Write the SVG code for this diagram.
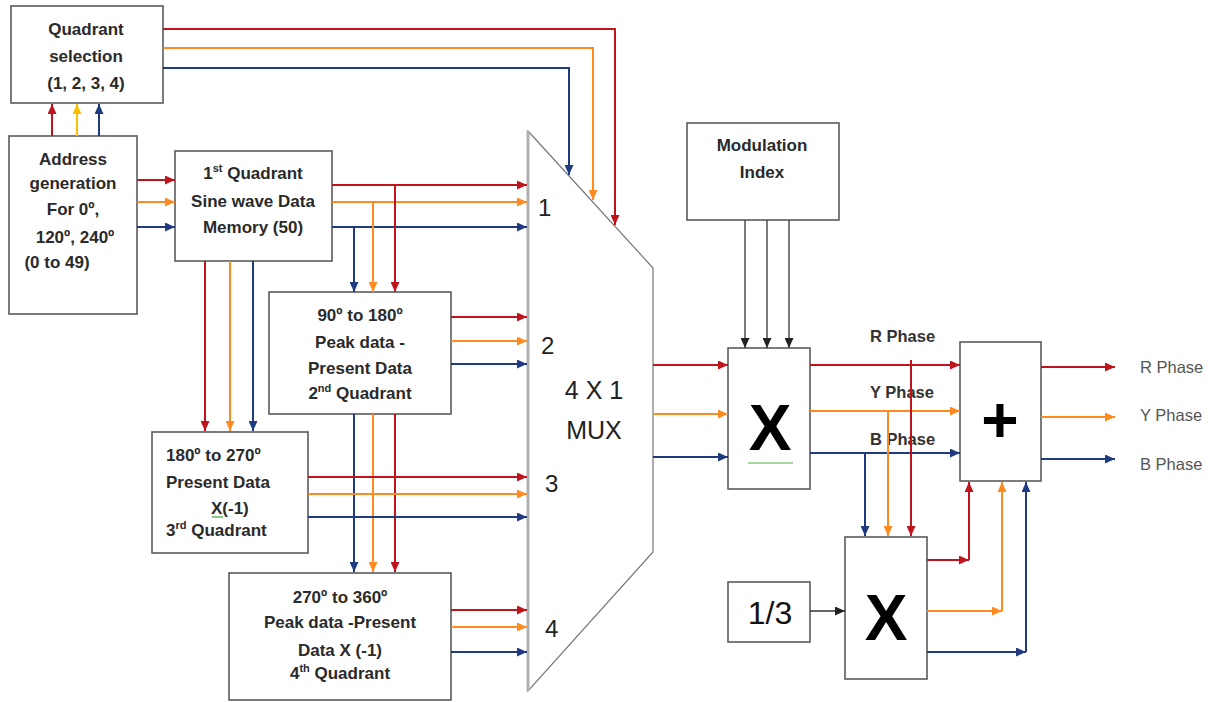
<svg xmlns="http://www.w3.org/2000/svg" width="1208" height="702" viewBox="0 0 1208 702">
<defs>
<style>
.box{fill:#fff;stroke:#5a5a5a;stroke-width:1.6}
.t{font-family:"Liberation Sans",Arial,sans-serif;font-size:17px;font-weight:bold;fill:#2a2a2a;text-anchor:middle}
.tl{font-family:"Liberation Sans",Arial,sans-serif;font-size:17px;font-weight:bold;fill:#2a2a2a;text-anchor:start}
.num{font-family:"Liberation Sans",Arial,sans-serif;font-size:24px;fill:#222}
.mux{font-family:"Liberation Sans",Arial,sans-serif;font-size:25px;fill:#222;text-anchor:middle}
.big{font-family:"Liberation Sans",Arial,sans-serif;font-size:64px;font-weight:bold;fill:#000;text-anchor:middle}
.ph{font-family:"Liberation Sans",Arial,sans-serif;font-size:16.5px;font-weight:bold;fill:#333}
.pho{font-family:"Liberation Sans",Arial,sans-serif;font-size:16.5px;fill:#555}
.r{stroke:#C0141C;stroke-width:2;fill:none}
.o{stroke:#FF8A1F;stroke-width:2;fill:none}
.b{stroke:#1F3A80;stroke-width:2;fill:none}
.y{stroke:#FFC000;stroke-width:2;fill:none}
.k{stroke:#333;stroke-width:1.3;fill:none}
.ra{marker-end:url(#ar)}
.oa{marker-end:url(#ao)}
.ba{marker-end:url(#ab)}
.ya{marker-end:url(#ay)}
.ka{marker-end:url(#ak)}
</style>
<marker id="ar" markerUnits="userSpaceOnUse" markerWidth="10" markerHeight="9" refX="10" refY="4.5" orient="auto"><path d="M0,0 L10,4.5 L0,9 z" fill="#C0141C"/></marker>
<marker id="ao" markerUnits="userSpaceOnUse" markerWidth="10" markerHeight="9" refX="10" refY="4.5" orient="auto"><path d="M0,0 L10,4.5 L0,9 z" fill="#FF8A1F"/></marker>
<marker id="ab" markerUnits="userSpaceOnUse" markerWidth="10" markerHeight="9" refX="10" refY="4.5" orient="auto"><path d="M0,0 L10,4.5 L0,9 z" fill="#1F3A80"/></marker>
<marker id="ay" markerUnits="userSpaceOnUse" markerWidth="10" markerHeight="9" refX="10" refY="4.5" orient="auto"><path d="M0,0 L10,4.5 L0,9 z" fill="#FFC000"/></marker>
<marker id="ak" markerUnits="userSpaceOnUse" markerWidth="10" markerHeight="9" refX="10" refY="4.5" orient="auto"><path d="M0,0 L10,4.5 L0,9 z" fill="#222"/></marker>
</defs>
<rect width="1208" height="702" fill="#fff"/>

<g id="quadrant-selection">
<rect class="box" x="11" y="6" width="152" height="97"/>
<text class="t" x="86" y="35">Quadrant</text>
<text class="t" x="86" y="62">selection</text>
<text class="t" x="86" y="89">(1, 2, 3, 4)</text>
</g>

<g id="address-generation">
<rect class="box" x="9" y="136" width="128" height="178"/>
<text class="t" x="73" y="165">Address</text>
<text class="t" x="73" y="189">generation</text>
<text class="t" x="73" y="215">For 0º,</text>
<text class="t" x="75" y="243">120º, 240º</text>
<text class="t" x="57" y="268">(0 to 49)</text>
</g>

<g id="first-quadrant">
<rect class="box" x="175" y="151" width="157" height="110"/>
<text class="t" x="253" y="179">1<tspan font-size="11" dy="-7">st</tspan><tspan dy="7"> Quadrant</tspan></text>
<text class="t" x="253" y="207">Sine wave Data</text>
<text class="t" x="253" y="233">Memory (50)</text>
</g>

<g id="second-quadrant">
<rect class="box" x="269" y="292" width="182" height="122"/>
<text class="t" x="360" y="321">90º to 180º</text>
<text class="t" x="360" y="348">Peak data -</text>
<text class="t" x="360" y="374">Present Data</text>
<text class="t" x="360" y="399">2<tspan font-size="11" dy="-7">nd</tspan><tspan dy="7"> Quadrant</tspan></text>
</g>

<g id="third-quadrant">
<rect class="box" x="152" y="432" width="156" height="121"/>
<text class="tl" x="166" y="461">180º to 270º</text>
<text class="tl" x="166" y="488">Present Data</text>
<text class="tl" x="211" y="514">X(-1)</text>
<line x1="212" y1="517" x2="223" y2="517" stroke="#5cb85c" stroke-width="1.5"/>
<text class="tl" x="166" y="536">3<tspan font-size="11" dy="-7">rd</tspan><tspan dy="7"> Quadrant</tspan></text>
</g>

<g id="fourth-quadrant">
<rect class="box" x="229" y="573" width="222" height="127"/>
<text class="t" x="340" y="603">270º to 360º</text>
<text class="t" x="340" y="628">Peak data -Present</text>
<text class="t" x="340" y="656">Data X (-1)</text>
<text class="t" x="340" y="679">4<tspan font-size="11" dy="-7">th</tspan><tspan dy="7"> Quadrant</tspan></text>
</g>

<g id="mux">
<polygon points="528,131 653,268 653,552 528,691" fill="#fff" stroke="#777" stroke-width="1.2"/>
<line x1="528" y1="131" x2="528" y2="691" stroke="#b0b0b0" stroke-width="3"/>
<text class="num" x="538" y="216">1</text>
<text class="num" x="541" y="354">2</text>
<text class="num" x="545" y="492">3</text>
<text class="num" x="545" y="637">4</text>
<text class="mux" x="594" y="399">4 X 1</text>
<text class="mux" x="594" y="439">MUX</text>
</g>

<g id="modulation-index">
<rect class="box" x="687" y="123" width="152" height="97"/>
<text class="t" x="762" y="151">Modulation</text>
<text class="t" x="762" y="178">Index</text>
</g>

<g id="multiplier-1">
<rect class="box" x="728" y="348" width="82" height="141"/>
<text class="big" x="770" y="450">X</text>
<line x1="748" y1="463" x2="793" y2="463" stroke="#a8d5a2" stroke-width="2"/>
</g>

<g id="adder">
<rect class="box" x="960" y="342" width="81" height="139"/>
<text class="big" x="1000" y="442" font-size="84">+</text>
</g>

<g id="one-third">
<rect class="box" x="728" y="582" width="82" height="60"/>
<text x="770" y="624" font-family="Liberation Sans, Arial, sans-serif" font-size="32" fill="#111" text-anchor="middle">1/3</text>
</g>

<g id="multiplier-2">
<rect class="box" x="845" y="537" width="82" height="142"/>
<text class="big" x="886" y="640">X</text>
</g>

<g id="labels">
<text class="ph" x="870" y="342">R Phase</text>
<text class="ph" x="870" y="398">Y Phase</text>
<text class="ph" x="870" y="445">B Phase</text>
<text class="pho" x="1140" y="373">R Phase</text>
<text class="pho" x="1140" y="421">Y Phase</text>
<text class="pho" x="1140" y="470">B Phase</text>
</g>

<g id="connectors">
<line class="r ra" x1="52" y1="136" x2="52" y2="104"/>
<line class="y ya" x1="77" y1="136" x2="77" y2="104"/>
<line class="b ba" x1="99" y1="136" x2="99" y2="104"/>
<polyline class="r ra" points="163,29 615,29 615,225"/>
<polyline class="o oa" points="163,48 593,48 593,200"/>
<polyline class="b ba" points="163,68 569,68 569,175"/>
<line class="r ra" x1="137" y1="180" x2="175" y2="180"/>
<line class="o oa" x1="137" y1="202" x2="175" y2="202"/>
<line class="b ba" x1="137" y1="227" x2="175" y2="227"/>
<line class="r ra" x1="332" y1="185" x2="527" y2="185"/>
<line class="o oa" x1="332" y1="202" x2="527" y2="202"/>
<line class="b ba" x1="332" y1="227" x2="527" y2="227"/>
<line class="r ra" x1="395" y1="185" x2="395" y2="292"/>
<line class="o oa" x1="373" y1="202" x2="373" y2="292"/>
<line class="b ba" x1="354" y1="227" x2="354" y2="292"/>
<line class="r ra" x1="205" y1="261" x2="205" y2="431"/>
<line class="o oa" x1="230" y1="261" x2="230" y2="431"/>
<line class="b ba" x1="253" y1="261" x2="253" y2="431"/>
<line class="r ra" x1="451" y1="317" x2="527" y2="317"/>
<line class="o oa" x1="451" y1="341" x2="527" y2="341"/>
<line class="b ba" x1="451" y1="364" x2="527" y2="364"/>
<line class="b ba" x1="354" y1="414" x2="354" y2="572"/>
<line class="o oa" x1="373" y1="414" x2="373" y2="572"/>
<line class="r ra" x1="395" y1="414" x2="395" y2="572"/>
<line class="r ra" x1="308" y1="477" x2="527" y2="477"/>
<line class="o oa" x1="308" y1="494" x2="527" y2="494"/>
<line class="b ba" x1="308" y1="517" x2="527" y2="517"/>
<line class="r ra" x1="451" y1="610" x2="527" y2="610"/>
<line class="o oa" x1="451" y1="627" x2="527" y2="627"/>
<line class="b ba" x1="451" y1="652" x2="527" y2="652"/>
<line class="r ra" x1="653" y1="365" x2="728" y2="365"/>
<line class="o oa" x1="653" y1="414" x2="728" y2="414"/>
<line class="b ba" x1="653" y1="457" x2="728" y2="457"/>
<line class="k ka" x1="745" y1="220" x2="745" y2="348"/>
<line class="k ka" x1="767" y1="220" x2="767" y2="348"/>
<line class="k ka" x1="789" y1="220" x2="789" y2="348"/>
<line class="r ra" x1="810" y1="365" x2="960" y2="365"/>
<line class="o oa" x1="810" y1="411" x2="960" y2="411"/>
<line class="b ba" x1="810" y1="453" x2="960" y2="453"/>
<line class="b ba" x1="865" y1="453" x2="865" y2="536"/>
<line class="o oa" x1="888" y1="411" x2="888" y2="536"/>
<line class="r ra" x1="911" y1="360" x2="911" y2="536"/>
<line class="k ka" x1="810" y1="611" x2="845" y2="611" stroke-width="2"/>
<line class="r ra" x1="927" y1="560" x2="969" y2="560"/>
<line class="r ra" x1="969" y1="560" x2="969" y2="482"/>
<line class="o oa" x1="927" y1="611" x2="1002" y2="611"/>
<line class="o oa" x1="1002" y1="611" x2="1002" y2="482"/>
<line class="b ba" x1="927" y1="652" x2="1026" y2="652"/>
<line class="b ba" x1="1026" y1="652" x2="1026" y2="482"/>
<line class="r ra" x1="1041" y1="367" x2="1115" y2="367"/>
<line class="o oa" x1="1041" y1="417" x2="1115" y2="417"/>
<line class="b ba" x1="1041" y1="459" x2="1115" y2="459"/>
</g>
</svg>
